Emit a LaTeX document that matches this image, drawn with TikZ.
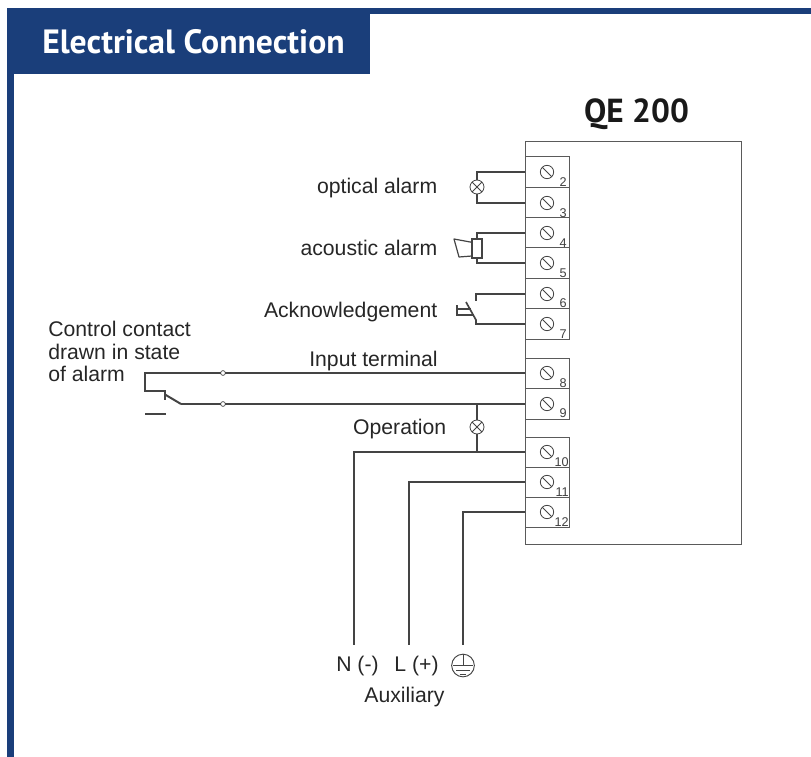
\documentclass[tikz,border=0pt]{standalone}
\usepackage{fontspec}
\setmainfont{Liberation Sans}
\newfontfamily\titlefont{PT Sans}
\definecolor{hblue}{HTML}{1A3E7A}
\definecolor{wirec}{HTML}{444444}
\definecolor{boxc}{HTML}{5A5A5A}
\begin{document}
\begin{tikzpicture}[x=0.75pt,y=-0.75pt,
  wire/.style={draw=wirec,line width=1.25pt},
  boxline/.style={draw=boxc,line width=0.6pt},
  termbox/.style={boxline,minimum width=33pt,inner sep=0pt,outer sep=0pt,fill=white},
  screw/.style={circle,draw=wirec,line width=0.6pt,minimum size=10pt,inner sep=0pt,outer sep=0pt,
    path picture={\draw[wirec,line width=0.6pt] (path picture bounding box.north west) -- (path picture bounding box.south east);}},
  lamp/.style={circle,draw=wirec,line width=0.6pt,fill=white,minimum size=10.5pt,inner sep=0pt,outer sep=0pt,
    path picture={\draw[wirec,line width=0.6pt] (path picture bounding box.north west) -- (path picture bounding box.south east)
      (path picture bounding box.north east) -- (path picture bounding box.south west);}},
  dot/.style={circle,draw=wirec,line width=0.5pt,fill=white,minimum size=3.6pt,inner sep=0pt,outer sep=0pt},
  lbl/.style={font=\fontsize{15.9}{18}\selectfont,text=black!85,inner sep=0pt,anchor=base east},
  lblc/.style={font=\fontsize{15.9}{18}\selectfont,text=black!85,inner sep=0pt,anchor=base},
  lblw/.style={font=\fontsize{15.9}{18}\selectfont,text=black!85,inner sep=0pt,anchor=base west},
  num/.style={font=\fontsize{9.5}{10}\selectfont,text=black!75,inner sep=0pt,anchor=base east}]
\useasboundingbox (0,0) rectangle (811,757);
% frame
\fill[hblue] (7,8) rectangle (811,14);
\fill[hblue] (7,74) rectangle (14,757);
\node[fill=hblue,minimum width=272.25pt,minimum height=49.5pt,inner sep=0pt,outer sep=0pt] (header) at (188.5,41) {};
\node[text=white,inner sep=0pt,anchor=base west,font=\titlefont\bfseries\fontsize{25.25}{28}\selectfont] (title) at (42,53) {Electrical Connection};
\node[inner sep=0pt,anchor=base,font=\titlefont\bfseries\fontsize{25}{28}\selectfont,text=black!90] (qe) at (636.5,122) {QE 200};
% housing
\node[boxline,minimum width=162pt,minimum height=302.25pt,inner sep=0pt,outer sep=0pt] (housing) at (633,342.5) {};
% terminals
\foreach \n/\yc/\h in {2/172/30.5,3/203/30.5,4/233/30.5,5/263/30.5,6/294/30.5,7/324/30.5,
  8/373/30,9/404/31,10/452/30,11/482/30,12/512/30}{
  \node[termbox,minimum height=\h*0.75pt] (t\n) at (547,\yc) {};
  \node[screw] (s\n) at (547,\yc) {};
}
\foreach \n/\yb in {2/186,3/217,4/247,5/277,6/307,7/338,8/387,9/417}{
  \node[num] (n\n) at (567,\yb) {\n};}
\foreach \n/\yb in {10/466,11/496,12/526}{
  \node[num] (n\n) at (569,\yb) {\n};}
% optical alarm
\node[lamp] (lamp1) at (477,187) {};
\draw[wire] (t2.west) -| (lamp1.north);
\draw[wire] (t3.west) -| (lamp1.south);
\node[lbl] (l1) at (437.5,193) {optical alarm};
% acoustic alarm
\node[draw=wirec,line width=0.9pt,minimum width=7.5pt,minimum height=14.25pt,inner sep=0pt,outer sep=0pt] (horn) at (477,248.5) {};
\draw[wire] (t4.west) -| (horn.north);
\draw[wire] (t5.west) -| (horn.south);
\draw[draw=wirec,line width=0.9pt,line join=round] ([yshift=-2.5]horn.north west) -- (454,239) -- (459,257) -- ([yshift=1.5]horn.south west);
\node[lbl] (l2) at (437.5,255) {acoustic alarm};
% acknowledgement
\coordinate (ack1) at (476,301);
\coordinate (ack2) at (476,320);
\coordinate (blade) at (466,302);
\draw[wire] (t6.west) -| (ack1);
\draw[wire] (t7.west) -| (ack2) -- (blade);
\coordinate (pb) at (470.5,309);
\coordinate (pc) at (472.5,315);
\draw[wire,line width=1pt] (pb) -- (457,309) (pc) -- (457,315) (457,305) -- (457,316);
\node[lbl] (l3) at (437.5,317) {Acknowledgement};
% control contact
\node[dot] (d1) at (223,373) {};
\node[dot] (d2) at (223,404) {};
\coordinate (c1) at (145,373);
\coordinate (c2) at (145,391);
\coordinate (c3) at (165,391);
\coordinate (c4) at (165,400);
\coordinate (c5) at (165,394.5);
\coordinate (c6) at (181,404);
\draw[wire] (t8.west) -- (d1) -- (c1) -- (c2) -- (c3) -- (c4);
\draw[wire,line width=1.5pt] (c5) -- (c6);
\draw[wire] (c6) -- (d2) -- (t9.west);
\coordinate (b1) at (145,414);
\coordinate (b2) at (166,414);
\draw[wire,line width=0.9pt] (b1) -- (b2);
\node[lblw] (l4) at (48,336) {Control contact};
\node[lblw] (l5) at (48,359) {drawn in state};
\node[lblw] (l6) at (48,381) {of alarm};
\node[lbl] (l7) at (438,366) {Input terminal};
% operation lamp
\node[lamp] (lamp2) at (477,427) {};
\coordinate (j1) at (477,404);
\coordinate (j2) at (477,452);
\draw[wire] (j1) -- (lamp2.north);
\draw[wire] (lamp2.south) -- (j2);
\node[lbl] (l8) at (446.5,434) {Operation};
% auxiliary
\node[lblc] (tn) at (357.5,671) {N (-)};
\node[lblc] (tl) at (416.5,671) {L (+)};
\node[circle,draw=wirec,line width=0.7pt,minimum size=17pt,inner sep=0pt,outer sep=0pt] (pe) at (463,665.5) {};
\draw[draw=wirec,line width=0.7pt] (pe.north) -- (pe.center);
\draw[draw=wirec,line width=0.7pt] ([xshift=-7.5]pe.center) -- ([xshift=7.5]pe.center);
\draw[draw=wirec,line width=0.7pt] ([xshift=-5,yshift=-3.5]pe.center) -- ([xshift=5,yshift=-3.5]pe.center);
\draw[draw=wirec,line width=0.7pt] ([xshift=-2.5,yshift=-7]pe.center) -- ([xshift=2.5,yshift=-7]pe.center);
\coordinate (nend) at (354,645);
\coordinate (lend) at (409,645);
\coordinate (peend) at (463,645);
\draw[wire] (t10.west) -| (nend);
\draw[wire] (t11.west) -| (lend);
\draw[wire] (t12.west) -| (peend);
\node[lblc] (l9) at (404.5,702) {Auxiliary};
\end{tikzpicture}
\end{document}
